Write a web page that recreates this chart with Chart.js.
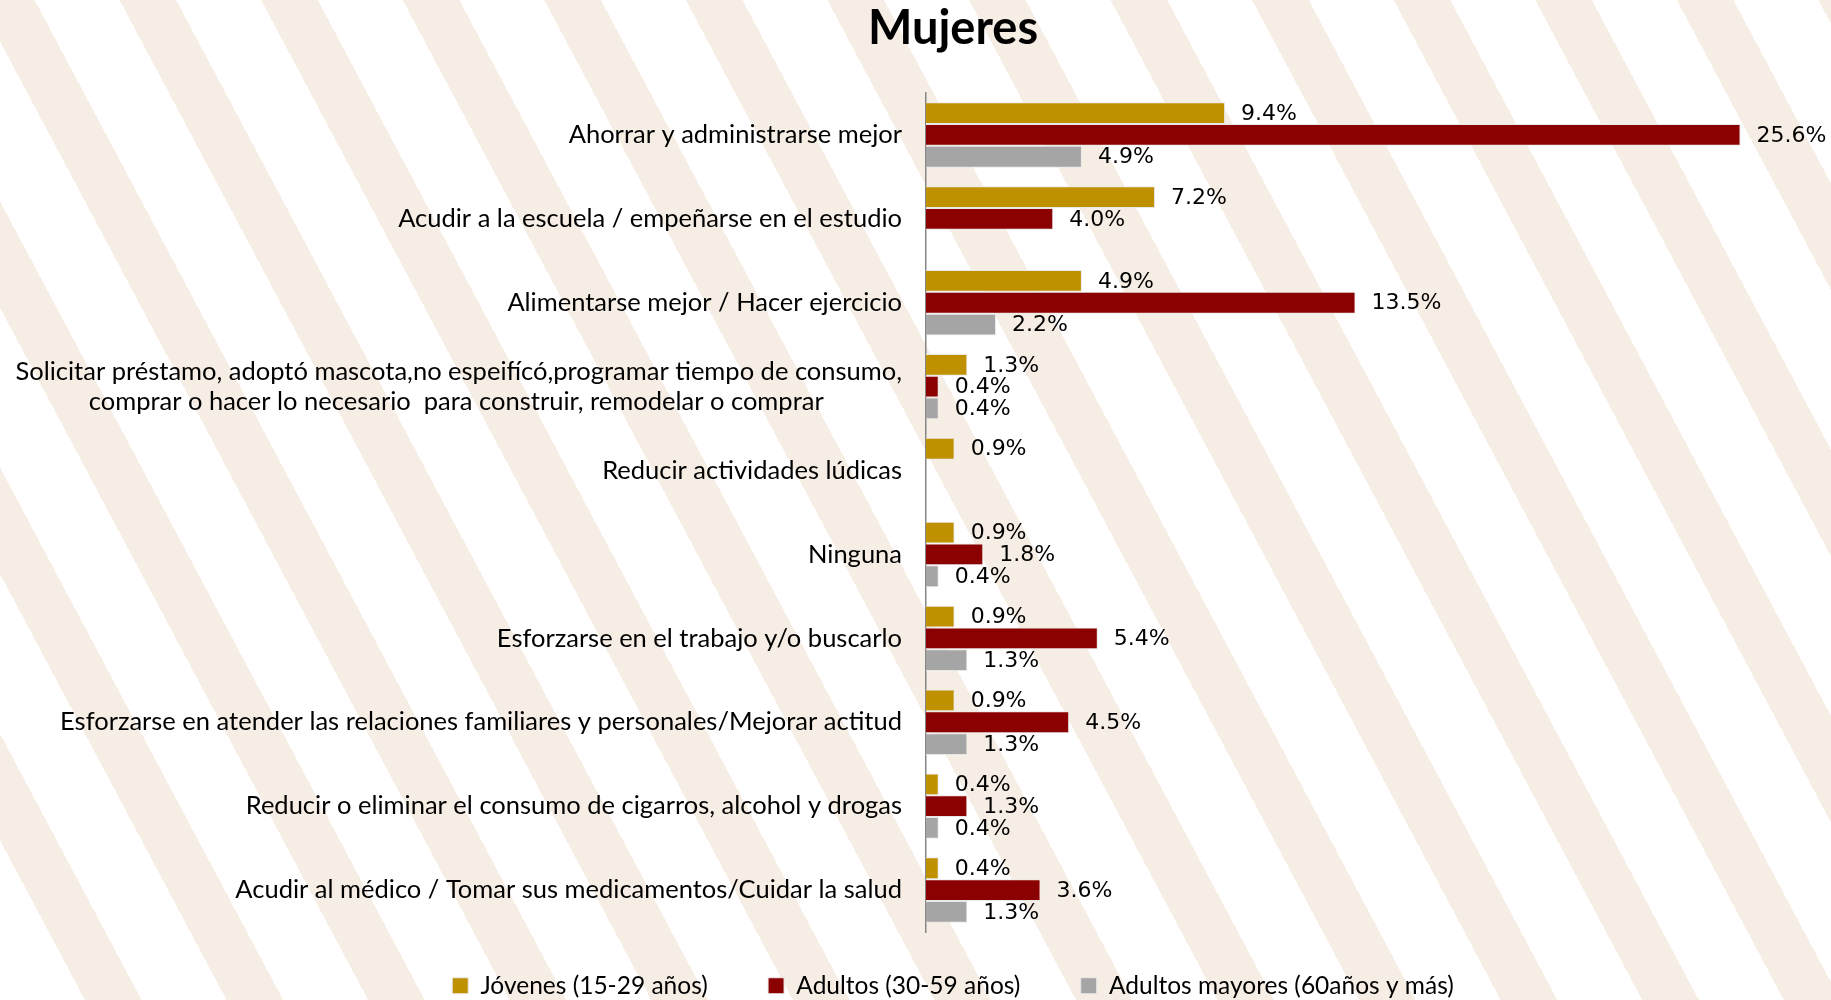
<!DOCTYPE html>
<html>
<head>
<meta charset="utf-8">
<script src="https://cdn.jsdelivr.net/npm/chart.js@4.4.1/dist/chart.umd.min.js"></script>
<style>
  html, body { margin: 0; padding: 0; }
  body {
    width: 1831px; height: 1000px; overflow: hidden; position: relative;
    background-color: #ffffff;
    background-image:
      repeating-linear-gradient(62deg, rgba(246,238,228,0) 0px, rgba(246,238,228,0) 75px, rgba(246,238,228,1) 75px, rgba(246,238,228,1) 125px);
  }
  #wrap { position: absolute; left: 0; top: 0; width: 1906px; height: 1008px; }
</style>
</head>
<body>
<div id="wrap"><canvas id="c"></canvas></div>
<script>
const categories = [
  "Ahorrar y administrarse mejor",
  "Acudir a la escuela / empeñarse en el estudio",
  "Alimentarse mejor / Hacer ejercicio",
  ["Solicitar préstamo, adoptó mascota,no espeifícó,programar tiempo de consumo,", "comprar o hacer lo necesario  para construir, remodelar o comprar            "],
  "Reducir actividades lúdicas",
  "Ninguna",
  "Esforzarse en el trabajo y/o buscarlo",
  "Esforzarse en atender las relaciones familiares y personales/Mejorar actitud",
  "Reducir o eliminar el consumo de cigarros, alcohol y drogas",
  "Acudir al médico / Tomar sus medicamentos/Cuidar la salud"
];
const jovenes  = [9.4, 7.2, 4.9, 1.3, 0.9, 0.9, 0.9, 0.9, 0.4, 0.4];
const adultos  = [25.6, 4.0, 13.5, 0.4, null, 1.8, 5.4, 4.5, 1.3, 3.6];
const mayores  = [4.9, null, 2.2, 0.4, null, 0.4, 1.3, 1.3, 0.4, 1.3];
const seriesNames = ["Jóvenes (15-29 años)", "Adultos (30-59 años)", "Adultos mayores (60años y más)"];

const labelFont = "'Lato', 'Liberation Sans', sans-serif";

const valueLabels = {
  id: 'valueLabels',
  afterDatasetsDraw(chart) {
    const ctx = chart.ctx;
    ctx.save();
    ctx.font = "22px 'DejaVu Sans', sans-serif";
    ctx.fillStyle = '#000';
    ctx.textAlign = 'left';
    ctx.textBaseline = 'middle';
    chart.data.datasets.forEach((ds, i) => {
      const meta = chart.getDatasetMeta(i);
      meta.data.forEach((bar, j) => {
        const v = ds.data[j];
        if (v === null || v === undefined) return;
        ctx.fillText(v.toFixed(1) + '%', bar.x + 16, bar.y + 1);
      });
    });
    ctx.restore();
  }
};

new Chart(document.getElementById('c'), {
  type: 'bar',
  data: {
    labels: categories,
    datasets: [
      { label: seriesNames[0], data: jovenes, backgroundColor: '#BF9000', borderColor: '#e8e8e8', borderWidth: 1 },
      { label: seriesNames[1], data: adultos, backgroundColor: '#8B0000', borderColor: '#e8e8e8', borderWidth: 1 },
      { label: seriesNames[2], data: mayores, backgroundColor: '#A5A5A5', borderColor: '#e8e8e8', borderWidth: 1 }
    ]
  },
  options: {
    indexAxis: 'y',
    responsive: true,
    maintainAspectRatio: false,
    animation: false,
    devicePixelRatio: 1,
    categoryPercentage: 0.78,
    barPercentage: 1.0,
    layout: { padding: { left: 0, right: 0, top: 0, bottom: 0 } },
    plugins: {
      title: {
        display: true,
        text: 'Mujeres',
        color: '#000',
        font: { family: labelFont, size: 47, weight: 'bold' },
        padding: { top: 1, bottom: 35.6 }
      },
      legend: {
        display: true,
        position: 'bottom',
        labels: {
          color: '#000',
          font: { family: labelFont, size: 24.5 },
          boxWidth: 16, boxHeight: 16,
          padding: 41.5,
          generateLabels(chart) {
            const items = Chart.defaults.plugins.legend.labels.generateLabels(chart);
            items.forEach((it, i) => { if (i < items.length - 1) it.text = it.text + '\u00a0\u00a0\u00a0'; });
            return items;
          }
        }
      },
      tooltip: { enabled: false }
    },
    scales: {
      x: {
        display: false,
        min: 0, max: 30.8
      },
      y: {
        afterFit(scale) { scale.width = 926; },
        grid: { display: false, drawTicks: false },
        border: { display: true, color: '#868686', width: 1.5 },
        ticks: {
          color: '#000',
          padding: 24,
          font: { family: labelFont, size: 25.5 }
        }
      }
    }
  },
  plugins: [valueLabels]
});
</script>
</body>
</html>
